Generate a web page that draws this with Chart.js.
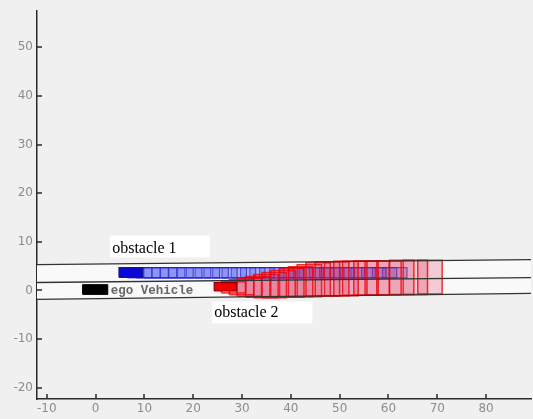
<!DOCTYPE html>
<html>
<head>
<meta charset="utf-8">
<script src="https://cdn.jsdelivr.net/npm/chart.js@4.4.0/dist/chart.umd.min.js"></script>
<style>
  body { margin: 0; background: #f0f0f0; }
  canvas { display: block; }
</style>
</head>
<body>
<canvas id="myChart" width="533" height="419"></canvas>
<script>
var xTicks = [-10, 0, 10, 20, 30, 40, 50, 60, 70, 80];
var yTicks = [-20, -10, 0, 10, 20, 30, 40, 50];

// road edges + centre line, read at the two ends of the plot
var laneX = [-12, 89.2];
var laneTop = [5.33, 6.35];
var laneMid = [1.64, 2.66];
var laneBottom = [-1.84, -0.6];

// [xmin, xmax, ymin, ymax]
var egoBox = [-2.6, 2.5, -0.8, 1.2];
var obs1Box = [4.8, 9.7, 2.7, 4.7];
var obs2Box = [24.3, 28.9, -0.1, 1.6];

var boxLength = 5;

// predicted boxes of obstacle 1 (left edges), all in the upper lane
var obs1Left = [6.5, 8.2, 9.9, 11.6, 13.3, 15.0, 16.8, 18.6, 20.4, 22.2, 24.0, 25.9, 27.8, 29.7,
  31.6, 33.6, 35.6, 37.6, 39.6, 41.7, 43.8, 45.9, 48.0, 50.1, 52.3, 54.5, 56.7, 58.8];
var obs1Bottom = [2.6];
var obs1Top = [4.7];

// predicted boxes of obstacle 2, growing up into the upper lane
var obs2Left = [25.8, 27.4, 29.0, 30.7, 32.4, 34.1, 35.9, 37.7, 39.5, 41.3, 43.1, 45.0, 46.9,
  48.8, 50.6, 52.9, 55.2, 57.6, 60.2, 63.0, 66.0];
var obs2Bottom = [-0.5, -0.9, -1.2, -1.4, -1.5, -1.5, -1.4, -1.4, -1.3, -1.3, -1.2, -1.2, -1.1,
  -1.1, -1.0, -1.0, -0.9, -0.9, -0.8, -0.8, -0.7];
var obs2Top = [1.8, 2.2, 2.5, 2.9, 3.3, 3.7, 4.1, 4.5, 4.9, 5.3, 5.7, 5.9, 5.9,
  6.0, 6.0, 6.1, 6.1, 6.1, 6.2, 6.2, 6.2];

function rect(x0, x1, y0, y1) {
  return [{x: x0, y: y0}, {x: x1, y: y0}, {x: x1, y: y1}, {x: x0, y: y1}, {x: x0, y: y0}];
}

function box(data, fill, border, width, order) {
  return {
    data: data, fill: 'shape', backgroundColor: fill, borderColor: border,
    borderWidth: width, pointRadius: 0, tension: 0, order: order
  };
}

var datasets = [];

// light road surface
datasets.push(box([
  {x: laneX[0], y: laneTop[0]}, {x: laneX[1], y: laneTop[1]},
  {x: laneX[1], y: laneBottom[1]}, {x: laneX[0], y: laneBottom[0]},
  {x: laneX[0], y: laneTop[0]}
], '#f9f9f9', 'rgba(0,0,0,0)', 0, 100));

obs1Left.forEach(function (l) {
  datasets.push(box(rect(l, l + boxLength, obs1Bottom[0], obs1Top[0]),
    'rgba(60,70,240,0.24)', 'rgba(30,30,210,0.7)', 1.1, 60));
});

obs2Left.forEach(function (l, i) {
  datasets.push(box(rect(l, l + boxLength, obs2Bottom[i], obs2Top[i]),
    'rgba(215,20,70,0.2)', 'rgba(240,0,0,0.8)', 1.5, 50));
});

datasets.push(box(rect(egoBox[0], egoBox[1], egoBox[2], egoBox[3]), '#000000', '#000000', 1, 20));
datasets.push(box(rect(obs1Box[0], obs1Box[1], obs1Box[2], obs1Box[3]), '#0808dc', '#1a1a60', 1.2, 20));
datasets.push(box(rect(obs2Box[0], obs2Box[1], obs2Box[2], obs2Box[3]), '#f00000', '#900000', 1.2, 20));

[laneTop, laneMid, laneBottom].forEach(function (ys) {
  datasets.push({
    data: [{x: laneX[0], y: ys[0]}, {x: laneX[1], y: ys[1]}],
    fill: false, borderColor: '#333333', borderWidth: 1.3, pointRadius: 0, order: 10
  });
});

// inward tick marks like the original figure
var innerTicks = {
  id: 'innerTicks',
  afterDatasetsDraw: function (chart) {
    var ctx = chart.ctx, xs = chart.scales.x, ys = chart.scales.y, a = chart.chartArea;
    ctx.save();
    ctx.strokeStyle = '#2a2a2a';
    ctx.lineWidth = 1.5;
    ctx.beginPath();
    xTicks.forEach(function (v) {
      var px = Math.round(xs.getPixelForValue(v));
      ctx.moveTo(px, a.bottom);
      ctx.lineTo(px, a.bottom - 5);
    });
    yTicks.forEach(function (v) {
      var py = Math.round(ys.getPixelForValue(v));
      ctx.moveTo(a.left, py);
      ctx.lineTo(a.left + 5, py);
    });
    ctx.stroke();
    ctx.restore();
  }
};

var notes = {
  id: 'notes',
  afterDatasetsDraw: function (chart) {
    var ctx = chart.ctx, xs = chart.scales.x, ys = chart.scales.y;
    function px(v) { return xs.getPixelForValue(v); }
    function py(v) { return ys.getPixelForValue(v); }
    ctx.save();
    // white tags
    ctx.fillStyle = '#ffffff';
    ctx.fillRect(px(2.9), py(11.3), px(23.4) - px(2.9), py(6.8) - py(11.3));
    ctx.fillRect(px(23.9), py(-2.25), px(44.4) - px(23.9), py(-6.75) - py(-2.25));
    ctx.fillStyle = '#000000';
    ctx.font = '16px "Liberation Serif"';
    ctx.textBaseline = 'alphabetic';
    ctx.fillText('obstacle 1', px(3.4), py(7.8));
    ctx.fillText('obstacle 2', px(24.3), py(-5.5));
    ctx.fillStyle = '#666666';
    ctx.font = 'bold 12.5px "Liberation Mono"';
    ctx.fillText('ego Vehicle', px(3.1), py(-0.8));
    ctx.restore();
  }
};

var ctx = document.getElementById('myChart').getContext('2d');

var myChart = new Chart(ctx, {
  type: 'line',
  data: { datasets: datasets },
  options: {
    responsive: false,
    animation: false,
    events: [],
    layout: { padding: { left: 0, right: 2, top: 10, bottom: 0 } },
    plugins: {
      legend: { display: false },
      tooltip: { enabled: false }
    },
    scales: {
      x: {
        type: 'linear',
        min: -12,
        max: 89.2,
        afterBuildTicks: function (s) { s.ticks = xTicks.map(function (v) { return {value: v}; }); },
        afterFit: function (s) { s.height = 20; },
        grid: { display: false, drawTicks: false },
        border: { display: true, color: '#2a2a2a', width: 1.5 },
        ticks: {
          color: '#8c8c8c', padding: 3, maxRotation: 0, autoSkip: false,
          font: { family: 'DejaVu Sans', size: 12 }
        }
      },
      y: {
        type: 'linear',
        min: -22.3,
        max: 57.4,
        afterBuildTicks: function (s) { s.ticks = yTicks.map(function (v) { return {value: v}; }); },
        afterFit: function (s) { s.width = 37; },
        grid: { display: false, drawTicks: false },
        border: { display: true, color: '#2a2a2a', width: 1.5 },
        ticks: {
          color: '#8c8c8c', padding: 4, autoSkip: false,
          font: { family: 'DejaVu Sans', size: 12 }
        }
      }
    }
  },
  plugins: [innerTicks, notes]
});
</script>
</body>
</html>
